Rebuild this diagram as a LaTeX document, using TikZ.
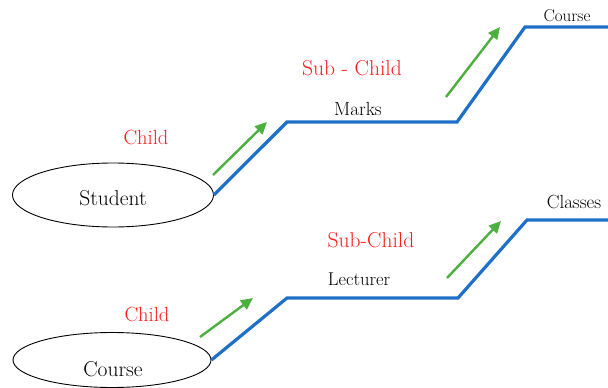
\documentclass[tikz,border=0pt]{standalone}
\usepackage{xcolor}
\usepackage{tikz}
\usetikzlibrary{positioning,arrows.meta,shapes.geometric}
\definecolor{DBBlue}{HTML}{1F6FC8}
\definecolor{DBGreen}{HTML}{4CAF3F}
\definecolor{DBRed}{HTML}{FF1A1A}
\tikzset{
  dbentity/.style={
    ellipse,
    draw=black,
    line width=0.9pt,
    inner sep=0pt,
    font=\fontsize{18}{20}\selectfont
  },
  dblink/.style={draw=DBBlue,line width=3.2pt,line join=miter},
  dbarrow/.style={-{Triangle[length=12pt,width=11pt]},line width=2.4pt,draw=DBGreen},
  dbfield/.style={font=\fontsize{19}{21}\selectfont,text=black,inner sep=0pt},
  dblevel/.style={font=\fontsize{21.5}{24}\selectfont,text=DBRed,inner sep=0pt},
}

\begin{document}
\begin{tikzpicture}[x=1pt,y={(0pt,-1pt)}]
  \useasboundingbox (0,0) rectangle (608,388);

  % entities
  \node[dbentity,minimum width=201pt,minimum height=64pt] (student) at (113,195) {};
  \node[dbfield,font=\fontsize{21.5}{23}\selectfont] (studentText) at (113,198) {Student};
  \node[dbentity,minimum width=198pt,minimum height=55pt] (course) at (112,360) {};
  \node[dbfield,font=\fontsize{21.5}{23}\selectfont] (courseText) at (113,369) {Course};

  % upper tree
  \coordinate (up1) at (287,122);
  \coordinate (up2) at (457,122);
  \coordinate (up3) at (525,27);
  \coordinate (up4) at (609,27);
  \draw[dblink] (student.east) -- (up1) -- (up2) -- (up3) -- (up4);

  \node[dblevel,font=\fontsize{20.5}{23}\selectfont] (childA) at (146,137) {Child};
  \node[dblevel] (subA) at (352,68) {Sub - Child};
  \node[dbfield] (marks) at (358,109) {Marks};
  \node[dbfield,font=\fontsize{17}{19}\selectfont] (courseTop) at (567,16) {Course};

  % lower tree
  \coordinate (lo1) at (287,298);
  \coordinate (lo2) at (458,298);
  \coordinate (lo3) at (527,220);
  \coordinate (lo4) at (609,220);
  \draw[dblink] (course.east) -- (lo1) -- (lo2) -- (lo3) -- (lo4);

  \node[dblevel,font=\fontsize{20.5}{23}\selectfont] (childB) at (147,314) {Child};
  \node[dblevel] (subB) at (371,240) {Sub-Child};
  \node[dbfield,font=\fontsize{18.5}{21}\selectfont] (lecturer) at (359,279) {Lecturer};
  \node[dbfield] (classes) at (574,202) {Classes};

  % direction arrows
  \foreach \fromX/\fromY/\toX/\toY/\arrowName in {
    213/175/267/122/gA, 446/97/500/27/gB,
    200/337/253/298/gC, 447/278/501/221/gD} {
    \coordinate (\arrowName-s) at (\fromX,\fromY);
    \coordinate (\arrowName-e) at (\toX,\toY);
    \draw[dbarrow] (\arrowName-s) -- (\arrowName-e);
  }
\end{tikzpicture}
\end{document}
